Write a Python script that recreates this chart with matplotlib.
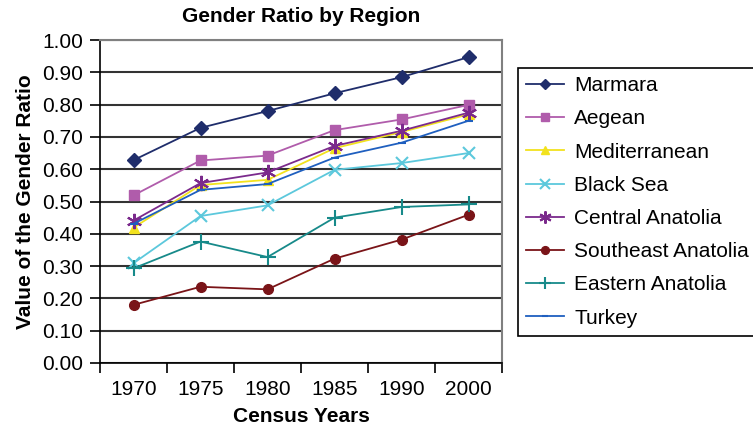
import numpy as np
import matplotlib
matplotlib.use("Agg")
import matplotlib.pyplot as plt

plt.rcParams['font.family'] = ['Liberation Sans', 'DejaVu Sans']

years = ['1970', '1975', '1980', '1985', '1990', '2000']

marmara = [0.628, 0.728, 0.780, 0.835, 0.885, 0.947]
aegean = [0.519, 0.627, 0.642, 0.721, 0.754, 0.799]
mediterranean = [0.419, 0.551, 0.567, 0.665, 0.715, 0.770]
black_sea = [0.309, 0.455, 0.488, 0.598, 0.619, 0.650]
central = [0.441, 0.557, 0.590, 0.672, 0.719, 0.775]
southeast = [0.180, 0.236, 0.228, 0.323, 0.382, 0.459]
eastern = [0.293, 0.376, 0.328, 0.450, 0.483, 0.491]
turkey = [0.431, 0.536, 0.554, 0.636, 0.682, 0.750]

series = [
    ('Marmara', marmara, '#1f2d6b', 'D', 7),
    ('Aegean', aegean, '#b05cab', 's', 7),
    ('Mediterranean', mediterranean, '#f2e21e', '^', 7),
    ('Black Sea', black_sea, '#5cc8dc', 'x', 9),
    ('Central Anatolia', central, '#7b2a8c', (6, 2, 0), 11),
    ('Southeast Anatolia', southeast, '#7a1418', 'o', 7),
    ('Eastern Anatolia', eastern, '#178a8a', '+', 11),
    ('Turkey', turkey, '#1f5fbf', '_', 6),
]

fs = 15

fig = plt.figure(figsize=(7.53, 4.28), dpi=100)
ax = fig.add_axes([100/753, 1-363/428, 402/753, 323/428])

x = np.arange(len(years))
for name, vals, col, mk, ms in series:
    ax.plot(x, vals, color=col, marker=mk, markersize=ms, linewidth=1.3,
            markeredgewidth=1.5 if mk in ('x', '+', '_', (6, 2, 0)) else 1,
            label=name)

ax.set_ylim(0, 1.0)
ax.set_yticks(np.arange(0, 1.01, 0.1))
ax.set_yticklabels(['%.2f' % v for v in np.arange(0, 1.01, 0.1)])
ax.set_xlim(-0.5, len(years) - 0.5)
ax.set_xticks(x)
ax.set_xticklabels(years)
ax.set_xticks(np.arange(-0.5, len(years)), minor=True)
ax.tick_params(axis='x', which='major', length=0, labelsize=fs, pad=12)
ax.tick_params(axis='x', which='minor', length=7, width=1.2, direction='out')
ax.tick_params(axis='y', length=7, width=1.2, direction='out', labelsize=fs, pad=5)

ax.grid(axis='y', color='#333333', linewidth=1.5)
ax.set_axisbelow(True)
for s in ['top', 'right']:
    ax.spines[s].set_color('#808080')
    ax.spines[s].set_linewidth(1.5)
for s in ['left', 'bottom']:
    ax.spines[s].set_color('black')
    ax.spines[s].set_linewidth(1.2)

ax.set_title('Gender Ratio by Region', fontsize=fs, fontweight='bold', pad=13)
ax.set_xlabel('Census Years', fontsize=fs, fontweight='bold', labelpad=6)
ax.set_ylabel('Value of the Gender Ratio', fontsize=fs, fontweight='bold', labelpad=5)

leg = ax.legend(loc='upper left', bbox_to_anchor=(518/753, 1-68/428),
                bbox_transform=fig.transFigure, borderaxespad=0, fontsize=fs,
                handlelength=1.8, handletextpad=0.5, labelspacing=0.68,
                borderpad=0.4, fancybox=False, framealpha=1, markerscale=0.8)
leg.get_frame().set_edgecolor('black')
leg.get_frame().set_linewidth(1.2)

fig.savefig('out.png', dpi=100)
